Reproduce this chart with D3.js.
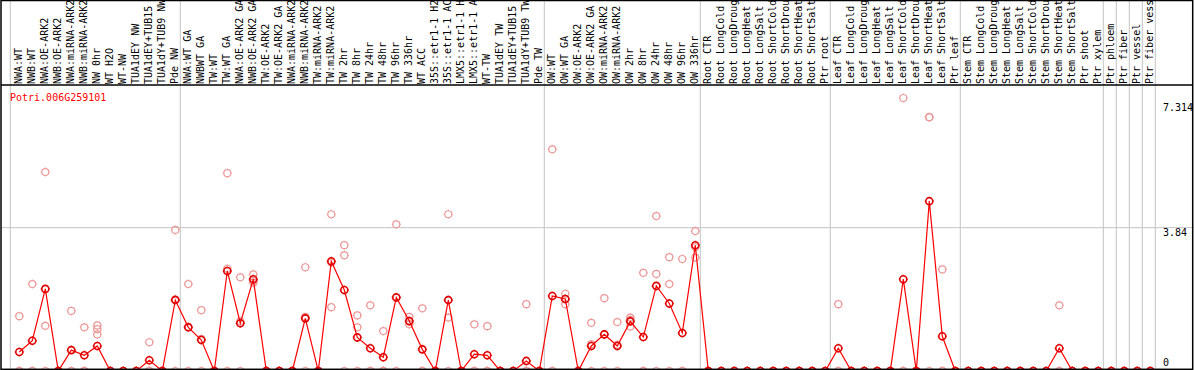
<!DOCTYPE html>
<html>
<head>
<meta charset="utf-8">
<script src="https://cdn.jsdelivr.net/npm/d3@7"></script>
<style>
  body { margin: 0; background: #fff; }
  svg { display: block; }
  text { font-family: "DejaVu Sans Mono", monospace; font-size: 10px; }
</style>
</head>
<body>
<svg class="chart-expr" width="1194" height="370"></svg>
<script>
//------------------------------------------------------------
//---------------------------DADOS----------------------------
var geneName = "Potri.006G259101";

var labels = [
  "NWA:WT", "NWB:WT", "NWA:OE-ARK2", "NWB:OE-ARK2", "NWA:miRNA-ARK2", "NWB:miRNA-ARK2",
  "NW 0hr", "WT H2O", "WT-NW", "TUA1dEY NW", "TUA1dEY+TUB15 NW", "TUA1dY+TUB9 NW", "Pde NW",
  "NWA:WT GA", "NWBWT GA", "TW:WT", "TW:WT GA", "NWA:OE-ARK2 GA", "NWB:OE-ARK2 GA",
  "TW:OE-ARK2", "TW:OE-ARK2 GA", "NWA:miRNA-ARK2", "NWB:miRNA-ARK2", "TW:miRNA-ARK2", "TW:miRNA-ARK2",
  "TW 2hr", "TW 8hr", "TW 24hr", "TW 48hr", "TW 96hr", "TW 336hr", "WT ACC",
  "35S::etr1-1 H2O", "35S::etr1-1 ACC", "LMX5::etr1-1 H2O", "LMX5::etr1-1 ACC",
  "WT-TW", "TUA1dEY TW", "TUA1dEY+TUB15 TW", "TUA1dY+TUB9 TW", "Pde TW",
  "OW:WT", "OW:WT GA", "OW:OE-ARK2", "OW:OE-ARK2 GA", "OW:miRNA-ARK2", "OW:miRNA-ARK2",
  "OW 2hr", "OW 8hr", "OW 24hr", "OW 48hr", "OW 96hr", "OW 336hr",
  "Root CTR", "Root LongCold", "Root LongDrought", "Root LongHeat", "Root LongSalt",
  "Root ShortCold", "Root ShortDrought", "Root ShortHeat", "Root ShortSalt", "Ptr root",
  "Leaf CTR", "Leaf LongCold", "Leaf LongDrought", "Leaf LongHeat", "Leaf LongSalt",
  "Leaf ShortCold", "Leaf ShortDrought", "Leaf ShortHeat", "Leaf ShortSalt", "Ptr leaf",
  "Stem CTR", "Stem LongCold", "Stem LongDrought", "Stem LongHeat", "Stem LongSalt",
  "Stem ShortCold", "Stem ShortDrought", "Stem ShortHeat", "Stem ShortSalt", "Ptr shoot",
  "Ptr xylem", "Ptr phloem", "Ptr fiber", "Ptr vessel", "Ptr fiber vessel"
];

// media de cada amostra
var means = [
  0.51, 0.81, 2.20, 0, 0.56, 0.42, 0.67, 0, 0, 0, 0.29, 0, 1.90,
  1.17, 0.83, 0, 2.68, 1.28, 2.46, 0, 0, 0, 1.41, 0, 2.94,
  2.17, 0.90, 0.61, 0.37, 1.97, 1.34, 0.58, 0, 1.90, 0, 0.45,
  0.42, 0, 0, 0.27, 0,
  2.01, 1.93, 0, 0.67, 0.98, 0.67, 1.33, 0.91, 2.28, 1.81, 1.02, 3.37,
  0, 0, 0, 0, 0, 0, 0, 0, 0, 0,
  0.61, 0, 0, 0, 0, 2.46, 0, 4.55, 0.93, 0,
  0, 0, 0, 0, 0, 0, 0, 0.61, 0, 0,
  0, 0, 0, 0, 0
];

// replicas
var rep1 = [
  1.47, 2.33, 5.33, 0, 1.61, 1.17, 1.22, 0, 0, 0, 0.77, 0, 3.78,
  2.33, 1.63, 0, 5.30, 2.51, 2.59, 0, 0, 0, 2.78, 0, 4.20,
  3.37, 1.49, 1.76, 1.07, 3.93, 1.45, 1.68, 0, 4.20, 0, 1.25,
  1.20, 0, 0, 1.79, 0,
  5.94, 2.07, 0, 1.29, 1.95, 1.31, 1.43, 2.63, 4.15, 3.05, 3.00, 3.75,
  0, 0, 0, 0, 0, 0, 0, 0, 0, 0,
  1.79, 0, 0, 0, 0, 7.314, 0, 6.80, 2.72, 0,
  0, 0, 0, 0, 0, 0, 0, 1.76, 0, 0,
  0, 0, 0, 0, 0
];
var rep2 = [
  0, 0, 1.21, 0, 0, 0, 1.12, 0, 0, 0, 0, 0, 1.92,
  1.18, 0.86, 0, 2.74, 1.33, 2.37, 0, 0, 0, 1.45, 0, 1.71,
  3.10, 1.17, 0, 0, 1.98, 1.25, 0, 0, 1.43, 0, 0,
  0, 0, 0, 0, 0,
  0, 1.79, 0, 0.72, 0.99, 0.70, 1.37, 0, 2.60, 2.33, 0, 3.04,
  0, 0, 0, 0, 0, 0, 0, 0, 0, 0,
  0, 0, 0, 0, 0, 0, 0, 6.80, 0, 0,
  0, 0, 0, 0, 0, 0, 0, 0, 0, 0,
  0, 0, 0, 0, 0
];
var rep3 = [
  0, 0, 0, 0, 0, 0, 0.98, 0, 0, 0, 0, 0, 0,
  0, 0, 0, 0, 0, 2.42, 0, 0, 0, 0, 0, 2.91,
  0, 0, 0, 0, 0, 1.32, 0, 0, 0, 0, 0,
  0, 0, 0, 0, 0,
  0, 1.93, 0, 0, 0, 0, 1.19, 0, 0, 0, 0, 3.32,
  0, 0, 0, 0, 0, 0, 0, 0, 0, 0,
  0, 0, 0, 0, 0, 0, 0, 0, 0, 0,
  0, 0, 0, 0, 0, 0, 0, 0, 0, 0,
  0, 0, 0, 0, 0
];

// ultimo indice de cada bloco de amostras (linhas verticais cinzas)
var fimBlocos = [12, 40, 52, 62, 72, 83, 84, 85, 86, 87];

// rotulos do eixo y
var yTicks = [0, 3.84, 7.314];

//------------------------------------------------------------
//---------------------------ESCALAS--------------------------
var w = 1194, h = 370, topoGrafico = 85;

var xScale = d3.scaleLinear()
  .domain([0, labels.length - 1])
  .range([19.3, 1150.3]);

var yScale = d3.scaleLinear()
  .domain([0, d3.max(rep1)])
  .range([371, 98]);

var svg = d3.select(".chart-expr");

//------------------------------------------------------------
//---------------------------LINHAS DE GRADE------------------
function desenhaGrade(){
  var posicoes = [xScale(0) - 9].concat(fimBlocos.map(function(i) { return xScale(i) + 5; }));

  svg.append("g").selectAll("line")
    .data(posicoes)
    .enter()
    .append("line")
    .attr("x1", function(d) { return d; })
    .attr("x2", function(d) { return d; })
    .attr("y1", 0)
    .attr("y2", h)
    .attr("stroke", "#c4c4c4")
    .attr("stroke-width", 1);

  svg.append("line")
    .attr("x1", 1)
    .attr("x2", w)
    .attr("y1", yScale(3.84))
    .attr("y2", yScale(3.84))
    .attr("stroke", "#c4c4c4")
    .attr("stroke-width", 1);
}

//------------------------------------------------------------
//---------------------------ROTULOS DAS AMOSTRAS-------------
function rotulaAmostras(){
  svg.append("g").selectAll("text")
    .data(labels)
    .enter()
    .append("text")
    .attr("transform", function(d, i) {
      return "translate(" + (xScale(i) + 3) + "," + (topoGrafico - 1) + ") rotate(-90)";
    })
    .attr("fill", "black")
    .text(function(d) { return d; });

  svg.append("text")
    .attr("x", 10)
    .attr("y", 100.5)
    .attr("fill", "red")
    .text(geneName);
}

//------------------------------------------------------------
//---------------------------MARCADORES-----------------------
function marcador(r){
  var t = r + 1;
  return "M" + r + ",0A" + r + "," + r + " 0 1 1 " + (-r) + ",0A" + r + "," + r + " 0 1 1 " + r + ",0"
    + "M0," + (-r) + "V" + (-t) + "M0," + r + "V" + t
    + "M" + (-r) + ",0H" + (-t) + "M" + r + ",0H" + t;
}

function desenhaReplicas(){
  var pontos = [];
  [rep1, rep2, rep3].forEach(function(serie) {
    serie.forEach(function(v, i) { pontos.push({ i: i, v: v }); });
  });

  svg.append("g").selectAll("path")
    .data(pontos)
    .enter()
    .append("path")
    .attr("d", marcador(3.5))
    .attr("transform", function(d) {
      return "translate(" + xScale(d.i) + "," + yScale(d.v) + ")";
    })
    .attr("fill", "none")
    .attr("stroke", "#ec9a9a")
    .attr("stroke-width", 1.2);
}

function desenhaMedias(){
  var linha = d3.line()
    .x(function(d, i) { return xScale(i); })
    .y(function(d) { return yScale(d); });

  svg.append("path")
    .datum(means)
    .attr("d", linha)
    .attr("fill", "none")
    .attr("stroke", "#ff0000")
    .attr("stroke-width", 1.2);

  svg.append("g").selectAll("path")
    .data(means)
    .enter()
    .append("path")
    .attr("d", marcador(3.5))
    .attr("transform", function(d, i) {
      return "translate(" + xScale(i) + "," + yScale(d) + ")";
    })
    .attr("fill", "none")
    .attr("stroke", "#e00000")
    .attr("stroke-width", 1.6);
}

//------------------------------------------------------------
//---------------------------EIXO Y E MOLDURA-----------------
function desenhaEixoY(){
  svg.append("g").selectAll("text")
    .data(yTicks)
    .enter()
    .append("text")
    .attr("x", 1163)
    .attr("y", function(d) {
      if (d === 0) return yScale(d) - 5;
      if (d === d3.max(yTicks)) return yScale(d) + 12.5;
      return yScale(d) + 8.5;
    })
    .attr("fill", "black")
    .text(function(d) { return d; });
}

function desenhaMoldura(){
  svg.append("rect")
    .attr("x", 1)
    .attr("y", 0.5)
    .attr("width", 1191.7)
    .attr("height", 368.8)
    .attr("fill", "none")
    .attr("stroke", "black")
    .attr("stroke-width", 1.5);

  svg.append("line")
    .attr("x1", 1)
    .attr("x2", 1193)
    .attr("y1", topoGrafico)
    .attr("y2", topoGrafico)
    .attr("stroke", "black")
    .attr("stroke-width", 1.4);
}

desenhaGrade();
rotulaAmostras();
desenhaReplicas();
desenhaMedias();
desenhaEixoY();
desenhaMoldura();
</script>
</body>
</html>
